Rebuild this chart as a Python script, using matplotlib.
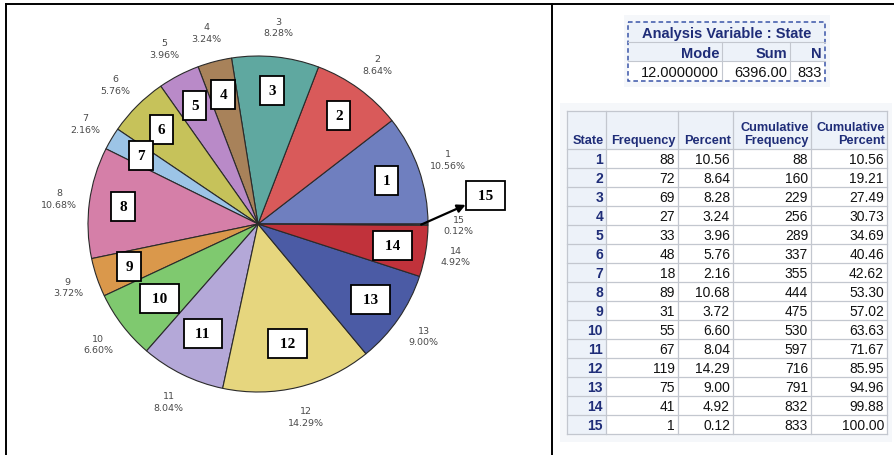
import numpy as np
import matplotlib
matplotlib.use("Agg")
import matplotlib.pyplot as plt
from matplotlib.patches import Rectangle

# frequency table of State
states = list(range(1, 16))
freq = [88, 72, 69, 27, 33, 48, 18, 89, 31, 55, 67, 119, 75, 41, 1]
percent = [10.56, 8.64, 8.28, 3.24, 3.96, 5.76, 2.16, 10.68, 3.72, 6.60, 8.04, 14.29, 9.00, 4.92, 0.12]
cum_freq = [88, 160, 229, 256, 289, 337, 355, 444, 475, 530, 597, 716, 791, 832, 833]
cum_pct = [10.56, 19.21, 27.49, 30.73, 34.69, 40.46, 42.62, 53.30, 57.02, 63.63, 71.67, 85.95, 94.96, 99.88, 100.00]

# summary of the analysis variable
summary_title = "Analysis Variable : State"
summary_heads = ["Mode", "Sum", "N"]
summary_vals = ["12.0000000", "6396.00", "833"]

freq_heads = ["State", "Frequency", "Percent", "Cumulative\nFrequency", "Cumulative\nPercent"]

slice_colors = ["#6f7fbf", "#d95a5a", "#5fa8a0", "#a8825a", "#b98ac8", "#c6c25a",
                "#9cc4e6", "#d57fa8", "#da984b", "#7fc96f", "#b4a8d8", "#e6d67e",
                "#4b5ba5", "#c1323b", "#8a8a8a"]

W, H = 894, 456
NAVY = "#1f2d78"
GRID = "#c3c7cf"
HEADBG = "#edf2f9"

fig = plt.figure(figsize=(W / 100, H / 100), dpi=100)
fig.patch.set_facecolor("white")

# overlay in pixel units for frame and tables
bg = fig.add_axes([0, 0, 1, 1])
bg.set_xlim(0, W)
bg.set_ylim(H, 0)
bg.axis("off")

# frame lines
bg.plot([6, W], [5, 5], color="black", lw=1.4)
bg.plot([6, 6], [5, H], color="black", lw=1.4)
bg.plot([552, 552], [5, H], color="black", lw=1.4)

# pie
cx, cy, rx, ry = 258, 225, 170, 168
ax = fig.add_axes([(cx - rx) / W, 1 - (cy + ry) / H, 2 * rx / W, 2 * ry / H])
wedges, _ = ax.pie(freq, colors=slice_colors, startangle=0, counterclock=True,
                   wedgeprops=dict(edgecolor="#2a2a2a", linewidth=0.8))
ax.set_aspect("auto")
ax.set_xlim(-1, 1)
ax.set_ylim(-1, 1)
ax.axis("off")

serif = ["Liberation Serif", "DejaVu Serif"]
for i, w in enumerate(wedges):
    mid = np.deg2rad((w.theta1 + w.theta2) / 2)
    c, s = np.cos(mid), np.sin(mid)
    ax.text(1.18 * c, 1.18 * s, f"{states[i]}\n{percent[i]:.2f}%", ha="center", va="center",
            fontsize=6.8, color="#4a4a4a", linespacing=1.35)
    box = dict(boxstyle="square,pad=0.52", fc="white", ec="black", lw=1.3)
    lab = str(states[i]) if states[i] < 10 else f" {states[i]} "
    rbox = 0.8 if states[i] not in (10, 11, 12) else 0.73
    if i < len(wedges) - 1:
        ax.text(rbox * c, rbox * s, lab, ha="center", va="center", fontsize=11,
                fontweight="bold", family=serif, bbox=box)
    else:
        ax.annotate(lab, xy=(0.96 * c, 0.96 * s), xytext=(1.34, 0.167),
                    ha="center", va="center", fontsize=11, fontweight="bold",
                    family=serif, bbox=box,
                    arrowprops=dict(arrowstyle="<|-", color="black", lw=1.6, shrinkA=0, shrinkB=0,
                                    mutation_scale=12))

arial = ["Liberation Sans", "DejaVu Sans"]

# summary table
bg.add_patch(Rectangle((624, 16), 206, 72, fc="#f5f7fa", ec="none"))
sx = [628, 722, 790, 825]
sy = [23, 43, 62, 82]
bg.add_patch(Rectangle((sx[0], sy[0]), sx[-1] - sx[0], sy[2] - sy[0], fc=HEADBG, ec="none"))
bg.add_patch(Rectangle((sx[0], sy[2]), sx[-1] - sx[0], sy[3] - sy[2], fc="white", ec="none"))
bg.plot([sx[0], sx[-1]], [sy[1], sy[1]], color=GRID, lw=0.8)
bg.plot([sx[0], sx[-1]], [sy[2], sy[2]], color=GRID, lw=0.8)
for x in sx[1:-1]:
    bg.plot([x, x], [sy[1], sy[3]], color=GRID, lw=0.8)
bg.add_patch(Rectangle((sx[0], sy[0]), sx[-1] - sx[0], sy[3] - sy[0], fc="none", ec="#3a55a8",
                       lw=1.1, ls=(0, (3, 2))))
bg.text((sx[0] + sx[-1]) / 2, (sy[0] + sy[1]) / 2 + 1, summary_title, ha="center", va="center",
        fontsize=10.5, fontweight="bold", color=NAVY, family=arial)
for j in range(3):
    bg.text(sx[j + 1] - 3, (sy[1] + sy[2]) / 2 + 1, summary_heads[j], ha="right", va="center",
            fontsize=10.5, fontweight="bold", color=NAVY, family=arial)
    bg.text(sx[j + 1] - 3, (sy[2] + sy[3]) / 2 + 1, summary_vals[j], ha="right", va="center",
            fontsize=10.5, color="#111111", family=arial)

# frequency table
colx = [567, 606, 678, 733, 811, 887]
top, head_h, row_h = 112, 38, 19
nrows = len(states)
bottom = top + head_h + nrows * row_h
bg.add_patch(Rectangle((560, 104), 332, bottom - 104 + 8, fc="#f5f7fa", ec="none"))
bg.add_patch(Rectangle((colx[0], top), colx[-1] - colx[0], bottom - top, fc="white", ec="none"))
bg.add_patch(Rectangle((colx[0], top), colx[-1] - colx[0], head_h, fc=HEADBG, ec="none"))
bg.add_patch(Rectangle((colx[0], top), colx[1] - colx[0], bottom - top, fc=HEADBG, ec="none"))
for x in colx:
    bg.plot([x, x], [top, bottom], color=GRID, lw=0.9)
for k in range(nrows + 2):
    y = top if k == 0 else top + head_h + (k - 1) * row_h
    bg.plot([colx[0], colx[-1]], [y, y], color=GRID, lw=0.9)

for j, h in enumerate(freq_heads):
    bg.text(colx[j + 1] - 2, top + head_h - 3, h, ha="right", va="bottom", fontsize=9.2,
            fontweight="bold", color=NAVY, family=arial, linespacing=1.15, multialignment="right")

for i in range(nrows):
    yc = top + head_h + i * row_h + row_h / 2 + 1
    cells = [str(states[i]), str(freq[i]), f"{percent[i]:.2f}", str(cum_freq[i]), f"{cum_pct[i]:.2f}"]
    for j, v in enumerate(cells):
        bg.text(colx[j + 1] - 3, yc, v, ha="right", va="center", fontsize=10,
                fontweight="bold" if j == 0 else "normal",
                color=NAVY if j == 0 else "#111111", family=arial)

fig.savefig("out.png", dpi=100)
